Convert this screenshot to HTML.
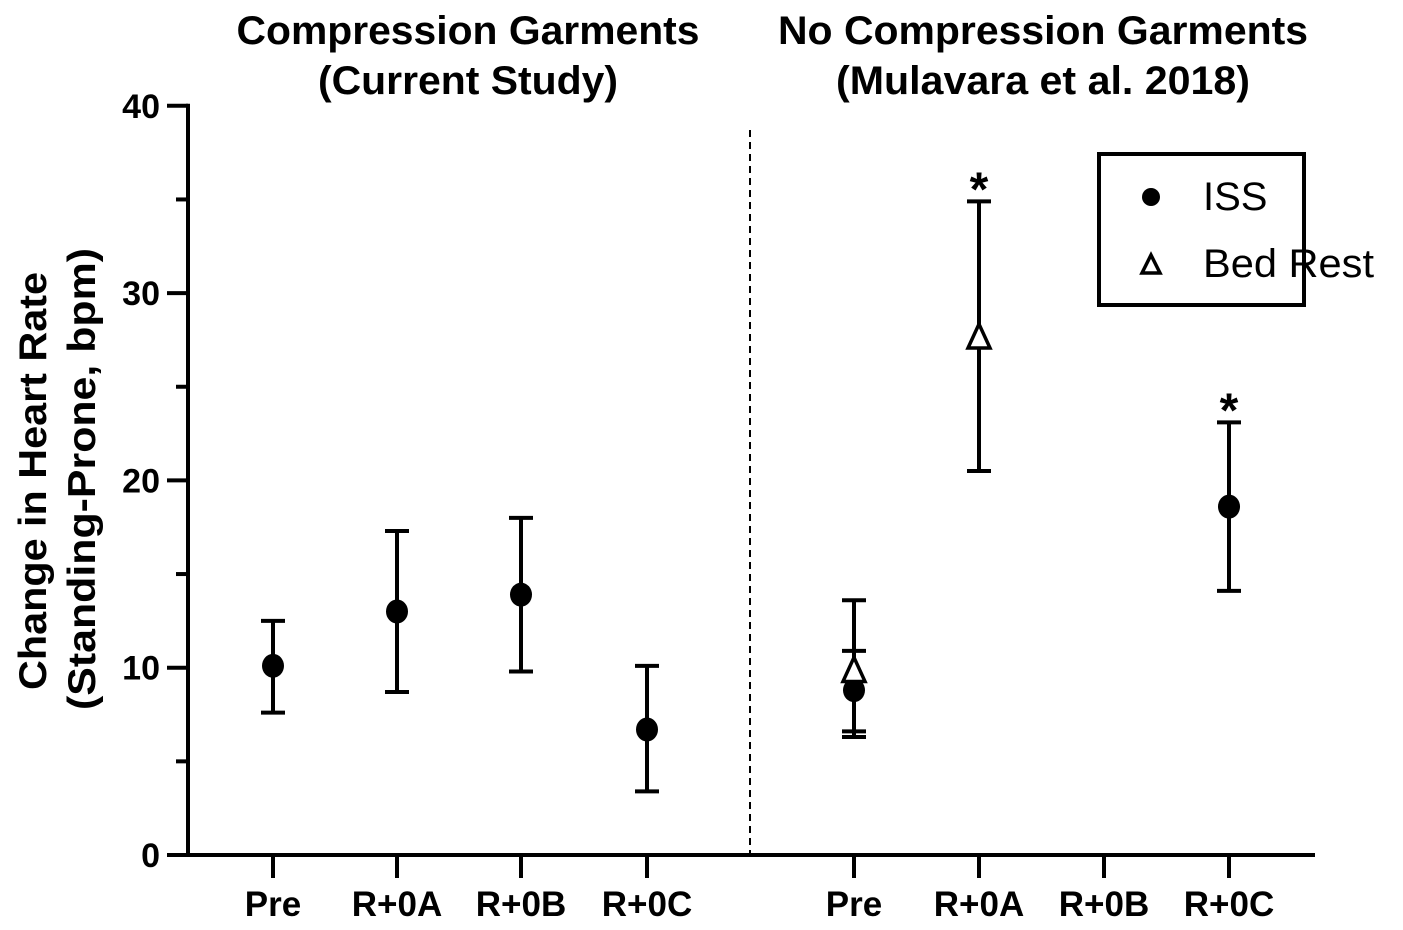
<!DOCTYPE html>
<html><head><meta charset="utf-8"><style>
html,body{margin:0;padding:0;background:#fff}
svg{display:block;font-family:"Liberation Sans",Arial,sans-serif}
</style></head><body>
<svg id="chart" width="1403" height="930" viewBox="0 0 1403 930">
<g font-weight="bold" font-size="40" text-anchor="middle" lengthAdjust="spacingAndGlyphs">
<text x="468" y="44" textLength="463" lengthAdjust="spacingAndGlyphs">Compression Garments</text>
<text x="468" y="94" textLength="300" lengthAdjust="spacingAndGlyphs">(Current Study)</text>
<text x="1043" y="44" textLength="530" lengthAdjust="spacingAndGlyphs">No Compression Garments</text>
<text x="1043" y="94" textLength="414" lengthAdjust="spacingAndGlyphs">(Mulavara et al. 2018)</text>
</g>
<g font-weight="bold" font-size="39" text-anchor="middle">
<text transform="translate(46,481) rotate(-90)" textLength="418" lengthAdjust="spacingAndGlyphs">Change in Heart Rate</text>
<text transform="translate(95,479) rotate(-90)" textLength="462" lengthAdjust="spacingAndGlyphs">(Standing-Prone, bpm)</text>
</g>
<g id="axes"></g>
<g id="marks"></g>
<g>
<rect x="1099" y="154" width="205" height="151" fill="none" stroke="#000" stroke-width="4"/>
<circle cx="1151" cy="197" r="9" fill="#000"/>
<text x="1203" y="210" font-size="40">ISS</text>
<path d="M1151 255 L1160 273 L1142 273 Z" fill="#fff" stroke="#000" stroke-width="3.5"/>
<text x="1203" y="277" font-size="40" textLength="171" lengthAdjust="spacingAndGlyphs">Bed Rest</text>
</g>
</svg>
<script>
const categories = ["Pre","R+0A","R+0B","R+0C","Pre","R+0A","R+0B","R+0C"];
const yTicks = [0,10,20,30,40];
// Compression (current study) - index 0..3
const compMean = [10.1, 13.0, 13.9, 6.7];
const compLow  = [7.6, 8.7, 9.8, 3.4];
const compHigh = [12.5, 17.3, 18.0, 10.1];
// ISS (Mulavara) - category indices 4 and 7
const issIdx = [4, 7];
const issMean = [8.8, 18.6];
const issLow  = [6.3, 14.1];
const issHigh = [10.9, 23.1];
// Bed rest - category indices 4 and 5
const bedIdx = [4, 5];
const bedMean = [9.8, 27.6];
const bedLow  = [6.6, 20.5];
const bedHigh = [13.6, 34.9];
const sigIdx = [5, 7];
const sigTop = [34.9, 23.1];

const NS="http://www.w3.org/2000/svg";
const xPos=[273,397,521,647,854,979,1104,1229];
function X(i){return xPos[i];}
function Y(v){return 855-v*18.73;}
function mk(tag,attrs,parent,text){const e=document.createElementNS(NS,tag);for(const k in attrs)e.setAttribute(k,attrs[k]);if(text!==undefined)e.textContent=text;parent.appendChild(e);return e;}
const axes=document.getElementById('axes'), marks=document.getElementById('marks');
let e;
e=mk('line',{x1:188,y1:Y(40)-2,x2:188,y2:857,stroke:'#000','stroke-width':4},axes);


e=mk('line',{x1:167,y1:855,x2:1315,y2:855,stroke:'#000','stroke-width':4},axes);


e=mk('line',{x1:750,y1:130,x2:750,y2:853,stroke:'#000','stroke-width':2,'stroke-dasharray':'7,5'},axes);


for(let i=0;i<yTicks.length;i++){const v=yTicks[i];
 e=mk('line',{x1:167,y1:Y(v),x2:188,y2:Y(v),stroke:'#000','stroke-width':4},axes);
 
 
 e=mk('text',{x:160,y:Y(v)+12,'font-size':34,'font-weight':'bold','text-anchor':'end'},axes,String(v));
 
 
 if(v<40){e=mk('line',{x1:176,y1:Y(v+5),x2:188,y2:Y(v+5),stroke:'#000','stroke-width':4},axes);
 
 }
}
for(let i=0;i<categories.length;i++){
 e=mk('line',{x1:X(i),y1:855,x2:X(i),y2:878,stroke:'#000','stroke-width':4},axes);
 
 
 e=mk('text',{x:X(i),y:916,'font-size':35,'font-weight':'bold','text-anchor':'middle'},axes,categories[i]);
 
 
}
function errbar(x,lo,hi){
 const g=mk('g',{stroke:'#000','stroke-width':4},marks);
 
 
 mk('line',{x1:x,y1:Y(lo),x2:x,y2:Y(hi)},g);
 mk('line',{x1:x-12,y1:Y(lo),x2:x+12,y2:Y(lo)},g);
 mk('line',{x1:x-12,y1:Y(hi),x2:x+12,y2:Y(hi)},g);
}
function dot(x,v){e=mk('ellipse',{cx:x,cy:Y(v),rx:11,ry:12,fill:'#000'},marks);
 
 }
for(let i=0;i<compMean.length;i++){errbar(X(i),compLow[i],compHigh[i]);dot(X(i),compMean[i]);}
for(let i=0;i<bedIdx.length;i++){errbar(X(bedIdx[i]),bedLow[i],bedHigh[i]);}
for(let i=0;i<issIdx.length;i++){errbar(X(issIdx[i]),issLow[i],issHigh[i]);dot(X(issIdx[i]),issMean[i]);}
for(let i=0;i<bedIdx.length;i++){const x=X(bedIdx[i]),y=Y(bedMean[i]);
 e=mk('path',{d:`M${x} ${y-14} L${x+11} ${y+10} L${x-11} ${y+10} Z`,fill:'#fff',stroke:'#000','stroke-width':3.5},marks);
 
 }
for(let i=0;i<sigIdx.length;i++){
 e=mk('text',{x:X(sigIdx[i]),y:Y(sigTop[i])+4,'font-size':48,'font-weight':'bold','text-anchor':'middle'},marks,'*');
 
 }
</script>
</body></html>
